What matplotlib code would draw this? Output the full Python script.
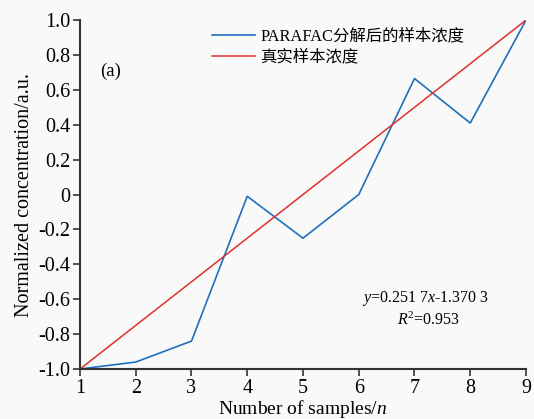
import matplotlib
matplotlib.use("Agg")
import matplotlib.pyplot as plt

# Sample index and concentrations
samples = [1, 2, 3, 4, 5, 6, 7, 8, 9]
parafac_conc = [-1.0, -0.96, -0.84, -0.01, -0.25, 0.0, 0.665, 0.41, 1.0]
true_conc = [-1.0, -0.75, -0.5, -0.25, 0.0, 0.25, 0.5, 0.75, 1.0]

x_ticks = [1, 2, 3, 4, 5, 6, 7, 8, 9]
y_ticks = [-1.0, -0.8, -0.6, -0.4, -0.2, 0.0, 0.2, 0.4, 0.6, 0.8, 1.0]
y_tick_labels = ["-1.0", "-0.8", "-0.6", "-0.4", "-0.2", "0",
                 "0.2", "0.4", "0.6", "0.8", "1.0"]

series_labels = ["PARAFAC分解后的样本浓度", "真实样本浓度"]

serif = ["Liberation Serif", "Noto Sans CJK SC", "DejaVu Sans"]
plt.rcParams["font.family"] = serif
plt.rcParams["mathtext.fontset"] = "custom"
plt.rcParams["mathtext.rm"] = "Liberation Serif"
plt.rcParams["mathtext.it"] = "Liberation Serif:italic"

bg = "#f9f9f9"
fig = plt.figure(figsize=(5.34, 4.19), dpi=100, facecolor=bg)
ax = fig.add_axes([0.1498, 0.1193, 0.8352, 0.8327], facecolor=bg)

ax.plot(samples, parafac_conc, color="#1f6fbf", lw=1.2, label=series_labels[0])
ax.plot(samples, true_conc, color="#e2302a", lw=1.1, label=series_labels[1])

ax.set_xlim(1, 9)
ax.set_ylim(-1.0, 1.0)
ax.set_xticks(x_ticks)
ax.set_xticklabels([str(t) for t in x_ticks])
ax.set_yticks(y_ticks)
ax.set_yticklabels(y_tick_labels)

for side in ("top", "right"):
    ax.spines[side].set_visible(False)
for side in ("left", "bottom"):
    ax.spines[side].set_linewidth(1.5)
    ax.spines[side].set_color("#333333")

ax.tick_params(direction="out", length=5, width=1.2, color="#333333",
               labelsize=14.5, pad=2)

ax.set_xlabel("Number of samples/$n$", fontsize=14, labelpad=0)
ax.set_ylabel("Normalized concentration/a.u.", fontsize=14.5, labelpad=3)

ax.text(1.36, 0.708, "(a)", fontsize=13.5, ha="left", va="center")
ax.text(7.2, -0.593, "$y$=0.251 7$x$-1.370 3", fontsize=11.5,
        ha="center", va="center")
ax.text(7.26, -0.719, "$R^2$=0.953", fontsize=11.5, ha="center", va="center")

leg = ax.legend(loc="upper left", bbox_to_anchor=(0.296, 0.975),
                frameon=False, borderaxespad=0, borderpad=0,
                handlelength=2.6, handletextpad=0.35, labelspacing=0.3,
                prop={"family": serif, "size": 11.8})

fig.savefig("out.png", dpi=100, facecolor=bg)
